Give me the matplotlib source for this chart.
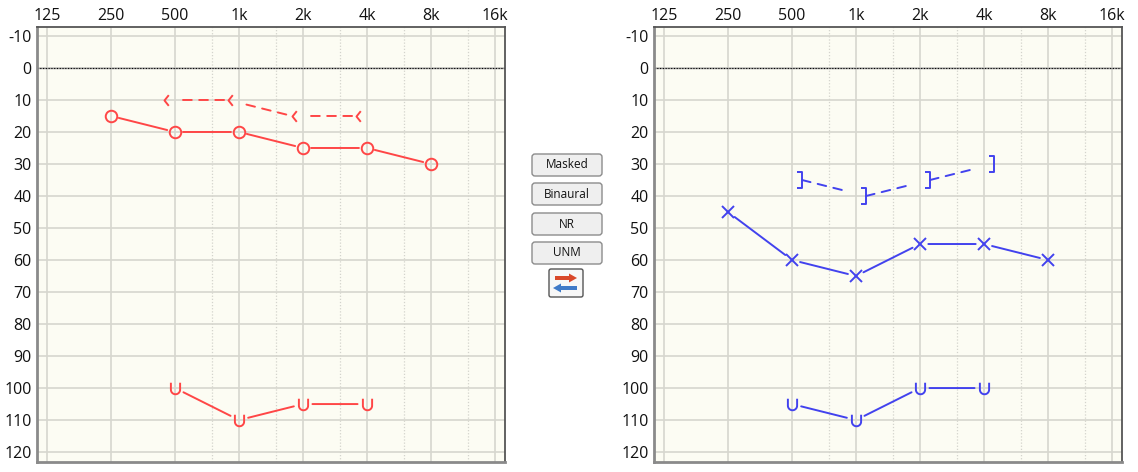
import numpy as np
import matplotlib
matplotlib.use('Agg')
import matplotlib.pyplot as plt
from matplotlib.path import Path
from matplotlib.patches import FancyBboxPatch, FancyArrow
import matplotlib.transforms as mtransforms

# ---------------- data ----------------
freq_ticks = [125, 250, 500, 1000, 2000, 4000, 8000, 16000]
freq_labels = ['125', '250', '500', '1k', '2k', '4k', '8k', '16k']
mid_freqs = [750, 1500, 3000, 6000, 12000]
db_ticks = list(range(-10, 121, 10))

ac_freqs = [250, 500, 1000, 2000, 4000, 8000]
right_ac = [15, 20, 20, 25, 25, 30]
left_ac = [45, 60, 65, 55, 55, 60]

bc_freqs = [500, 1000, 2000, 4000]
right_bc = [10, 10, 15, 15]
left_bc = [35, 40, 35, 30]

u_freqs = [500, 1000, 2000, 4000]
right_u = [100, 110, 105, 105]
left_u = [105, 110, 100, 100]

buttons = ['Masked', 'Binaural', 'NR', 'UNM']

# ---------------- style ----------------
RED = '#ff4646'
BLUE = '#4242ee'
BG = '#fcfcf3'
GRID = '#d6d6ce'
FONT = ['Open Sans', 'DejaVu Sans']
plt.rcParams['font.family'] = FONT

W, H = 1138, 472
fig = plt.figure(figsize=(W / 100, H / 100), dpi=100)

# marker shapes
th = np.linspace(np.pi, 2 * np.pi, 20)
u_verts = [(-0.8, 1.0)] + [(0.8 * np.cos(t), -0.2 + 0.8 * np.sin(t)) for t in th] + [(0.8, 1.0)]
U_MARK = Path(u_verts)
LT_MARK = Path([(0.8, 1.0), (0.0, 0.0), (0.8, -1.0)])
RB_MARK = Path([(-0.6, 1.0), (0.0, 1.0), (0.0, -1.0), (-0.6, -1.0)])


def px_ax(x0, x1):
    return [x0 / W, 0.0212, (x1 - x0) / W, 0.9216]


def connect(ax, xs, ys, color, trans, shA, shB, ls='-'):
    for i in range(len(xs) - 1):
        ax.annotate('', xy=(xs[i + 1], ys[i + 1]), xycoords=trans,
                    xytext=(xs[i], ys[i]), textcoords=trans,
                    arrowprops=dict(arrowstyle='-', color=color, lw=1.4,
                                    shrinkA=shA, shrinkB=shB, linestyle=ls),
                    zorder=3)


def setup(ax):
    ax.set_facecolor(BG)
    ax.set_xscale('log', base=2)
    ax.set_xlim(125 * 2 ** (-10 / 64), 16000 * 2 ** (10 / 64))
    ax.set_ylim(123.1, -12.8)
    for f in freq_ticks:
        ax.axvline(f, color=GRID, lw=1.2, zorder=1)
    for f in mid_freqs:
        ax.axvline(f, color='#d4d4cc', lw=0.9, ls=(0, (1, 1.5)), zorder=1)
    for d in db_ticks:
        ax.axhline(d, color=GRID, lw=1.2, zorder=1)
    ax.axhline(0, color='#999999', lw=1.0, zorder=1)
    ax.axhline(0, color='#000000', lw=0.8, ls=(0, (1, 1.5)), zorder=2)
    ax.xaxis.tick_top()
    ax.set_xticks(freq_ticks)
    ax.set_xticklabels(freq_labels)
    ax.xaxis.set_minor_locator(matplotlib.ticker.NullLocator())
    ax.set_yticks(db_ticks)
    ax.set_yticklabels([str(d) for d in db_ticks])
    ax.tick_params(axis='both', length=0, labelsize=11.5, colors='#111111')
    ax.tick_params(axis='x', pad=2)
    ax.tick_params(axis='y', pad=4)
    for s in ['top', 'right']:
        ax.spines[s].set_color('#555555')
        ax.spines[s].set_linewidth(1.3)
    for s in ['left', 'bottom']:
        ax.spines[s].set_color('#8a8a8a')
        ax.spines[s].set_linewidth(2.0)


axL = fig.add_axes(px_ax(37, 505))
axR = fig.add_axes(px_ax(654, 1122))
setup(axL)
setup(axR)

DASH = (0, (4.5, 3.8))

# ---- Left panel (right ear, red) ----
tr = axL.transData
axL.plot(ac_freqs, right_ac, ls='none', marker='o', ms=8.3, mfc='none', mec=RED, mew=1.4, zorder=4)
connect(axL, ac_freqs, right_ac, RED, tr, 5.8, 5.8)

tr_bc = tr + mtransforms.ScaledTranslation(-0.11, 0, fig.dpi_scale_trans)
axL.plot(bc_freqs, right_bc, ls='none', marker=LT_MARK, ms=7.7, mfc='none', mec=RED, mew=1.4,
         transform=tr_bc, zorder=4)
connect(axL, bc_freqs, right_bc, RED, tr_bc, 13.7, 0, ls=DASH)

axL.plot(u_freqs, right_u, ls='none', marker=U_MARK, ms=8.3, mfc='none', mec=RED, mew=1.4, zorder=4)
connect(axL, u_freqs, right_u, RED, tr, 6.8, 6.8)

# ---- Right panel (left ear, blue) ----
tr = axR.transData
axR.plot(ac_freqs, left_ac, ls='none', marker='x', ms=8.3, mec=BLUE, mew=1.4, zorder=4)
connect(axR, ac_freqs, left_ac, BLUE, tr, 6, 6)

tr_bc = tr + mtransforms.ScaledTranslation(0.10, 0, fig.dpi_scale_trans)
axR.plot(bc_freqs, left_bc, ls='none', marker=RB_MARK, ms=11.5, mfc='none', mec=BLUE, mew=1.4,
         transform=tr_bc, zorder=4)
connect(axR, bc_freqs, left_bc, BLUE, tr_bc, 0, 13.7, ls=DASH)

axR.plot(u_freqs, left_u, ls='none', marker=U_MARK, ms=8.3, mfc='none', mec=BLUE, mew=1.4, zorder=4)
connect(axR, u_freqs, left_u, BLUE, tr, 6.8, 6.8)

# ---- middle controls (pixel overlay) ----
ov = fig.add_axes([0, 0, 1, 1], zorder=10)
ov.set_xlim(0, W)
ov.set_ylim(H, 0)
ov.axis('off')
ov.patch.set_alpha(0)

btn_tops = [154, 183, 213, 242]
for label, top in zip(buttons, btn_tops):
    ov.add_patch(FancyBboxPatch((532, top), 70, 22, boxstyle='round,pad=0,rounding_size=3',
                                fc='#efefef', ec='#8c8c8c', lw=1.0))
    ov.text(567, top + 11, label, ha='center', va='center', fontsize=8.5, color='#111111')

ov.add_patch(FancyBboxPatch((549, 269), 34, 28, boxstyle='round,pad=0,rounding_size=2',
                            fc='#f7f7f7', ec='#555555', lw=1.0))
ov.add_patch(FancyArrow(555, 278, 22, 0, width=4, head_width=9, head_length=8,
                        length_includes_head=True, fc='#d9482a', ec='none'))
ov.add_patch(FancyArrow(577, 288, -24, 0, width=4, head_width=9, head_length=8,
                        length_includes_head=True, fc='#3f7ac8', ec='none'))

fig.savefig('out.png', dpi=100, facecolor='white')
